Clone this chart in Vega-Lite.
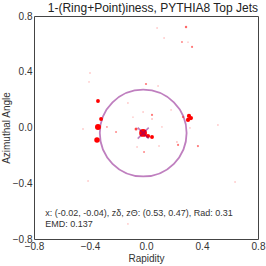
{
  "$schema": "https://vega.github.io/schema/vega-lite/v6.json",
  "width": 224,
  "height": 223,
  "autosize": {"type": "none"},
  "padding": {"left": 34, "top": 16, "right": 8, "bottom": 27},
  "background": "white",
  "config": {
    "font": "Liberation Sans",
    "view": {"stroke": "#444", "strokeWidth": 1},
    "axis": {"grid": false, "domain": false, "ticks": false, "labelFontSize": 10, "labelColor": "#333", "titleFontSize": 10, "titleColor": "#333", "titleFontWeight": "normal", "labelFlush": false, "labelOverlap": false, "labelBound": false}
  },
  "title": {"text": "1-(Ring+Point)iness, PYTHIA8 Top Jets", "anchor": "end", "frame": "group", "fontSize": 12, "fontWeight": "normal", "color": "#222", "baseline": "alphabetic", "offset": 3, "dy": 16},
  "datasets": {
    "particles": [
      {"x": 0.079, "y": 0.714, "w": 0.3},
      {"x": 0.286, "y": 0.721, "w": 1},
      {"x": 0.129, "y": 0.642, "w": 0.3},
      {"x": 0.257, "y": 0.613, "w": 0.6},
      {"x": 0.300, "y": 0.613, "w": 0.3},
      {"x": 0.329, "y": 0.578, "w": 0.8},
      {"x": -0.400, "y": 0.391, "w": 0.3},
      {"x": -0.407, "y": 0.327, "w": 0.3},
      {"x": 0.000, "y": 0.312, "w": 0.8},
      {"x": 0.086, "y": 0.298, "w": 0.3},
      {"x": -0.343, "y": 0.190, "w": 2.5},
      {"x": -0.129, "y": 0.176, "w": 0.3},
      {"x": 0.179, "y": 0.126, "w": 0.3},
      {"x": -0.021, "y": 0.111, "w": 0.3},
      {"x": 0.043, "y": 0.090, "w": 0.8},
      {"x": 0.043, "y": 0.061, "w": 0.4},
      {"x": -0.093, "y": 0.075, "w": 0.3},
      {"x": -0.321, "y": 0.061, "w": 2.5},
      {"x": 0.264, "y": 0.075, "w": 0.8},
      {"x": 0.307, "y": 0.083, "w": 3},
      {"x": 0.321, "y": 0.068, "w": 3},
      {"x": 0.300, "y": 0.054, "w": 3},
      {"x": -0.343, "y": 0.004, "w": 6},
      {"x": -0.279, "y": 0.004, "w": 0.5},
      {"x": -0.450, "y": -0.011, "w": 0.3},
      {"x": -0.214, "y": -0.032, "w": 0.6},
      {"x": -0.071, "y": -0.011, "w": 1.5},
      {"x": -0.021, "y": -0.039, "w": 10},
      {"x": 0.014, "y": -0.061, "w": 3},
      {"x": 0.043, "y": -0.068, "w": 2.5},
      {"x": -0.350, "y": -0.090, "w": 5},
      {"x": -0.064, "y": -0.140, "w": 0.3},
      {"x": -0.014, "y": -0.176, "w": 0.6},
      {"x": 0.221, "y": -0.104, "w": 0.4},
      {"x": 0.229, "y": -0.125, "w": 0.8},
      {"x": 0.371, "y": -0.133, "w": 0.8},
      {"x": 0.093, "y": -0.133, "w": 0.3},
      {"x": 0.114, "y": 0.004, "w": 0.3},
      {"x": 0.314, "y": -0.003, "w": 0.3},
      {"x": 0.514, "y": 0.018, "w": 0.3},
      {"x": -0.414, "y": -0.384, "w": 0.3},
      {"x": 0.636, "y": -0.391, "w": 0.3},
      {"x": -0.129, "y": -0.692, "w": 0.3}
    ],
    "fit": [
      {"x": -0.02, "y": -0.04, "label": "x: (-0.02, -0.04), zδ, zΘ: (0.53, 0.47), Rad: 0.31\nEMD: 0.137"}
    ]
  },
  "layer": [
    {
      "data": {"name": "fit"},
      "mark": {"type": "point", "shape": "circle", "filled": false, "size": 7534, "stroke": "#800080", "strokeOpacity": 0.5, "strokeWidth": 1.8, "opacity": 1},
      "encoding": {
        "x": {"field": "x", "type": "quantitative", "scale": {"domain": [-0.8, 0.8], "nice": false, "zero": false},
              "axis": {"values": [-0.8, -0.4, 0, 0.4, 0.8], "format": ".1f", "title": "Rapidity", "labelPadding": 2, "titlePadding": 2}},
        "y": {"field": "y", "type": "quantitative", "scale": {"domain": [-0.8, 0.8], "nice": false, "zero": false},
              "axis": {"values": [-0.8, -0.4, 0, 0.4, 0.8], "format": ".1f", "title": "Azimuthal Angle", "labelPadding": 2, "titlePadding": 1}}
      }
    },
    {
      "data": {"name": "particles"},
      "mark": {"type": "point", "shape": "circle", "filled": true, "color": "#ff0000", "strokeWidth": 0},
      "encoding": {
        "x": {"field": "x", "type": "quantitative"},
        "y": {"field": "y", "type": "quantitative"},
        "size": {"field": "w", "type": "quantitative", "scale": {"domain": [0, 10], "range": [0, 60]}, "legend": null},
        "opacity": {"field": "w", "type": "quantitative", "scale": {"domain": [0.3, 2.5], "range": [0.4, 1], "clamp": true}, "legend": null}
      }
    },
    {
      "data": {"name": "fit"},
      "mark": {"type": "point", "shape": "M-1,-1L1,1M-1,1L1,-1", "filled": false, "size": 121, "stroke": "#800080", "strokeOpacity": 0.5, "strokeWidth": 1.6, "opacity": 1},
      "encoding": {
        "x": {"field": "x", "type": "quantitative"},
        "y": {"field": "y", "type": "quantitative"}
      }
    },
    {
      "data": {"name": "fit"},
      "mark": {"type": "text", "align": "left", "baseline": "top", "fontSize": 9, "lineHeight": 11, "lineBreak": "\n", "color": "#333"},
      "encoding": {
        "x": {"datum": -0.72, "type": "quantitative"},
        "y": {"datum": -0.588, "type": "quantitative"},
        "text": {"field": "label"}
      }
    }
  ]
}
